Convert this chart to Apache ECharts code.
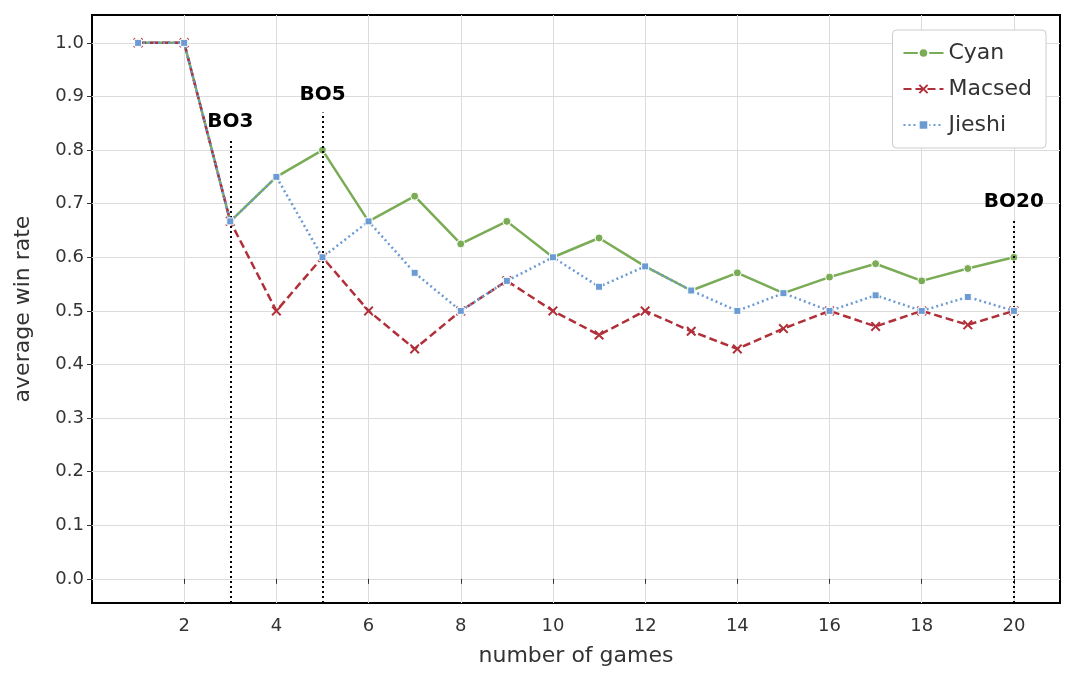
<!DOCTYPE html>
<html><head><meta charset="utf-8">
<script src="https://cdn.jsdelivr.net/npm/echarts@6/dist/echarts.min.js"></script>
<style>html,body{margin:0;background:#fff}#c{width:1080px;height:678px}</style>
</head><body><div id="c"></div>
<script>
// data
var games = [1,2,3,4,5,6,7,8,9,10,11,12,13,14,15,16,17,18,19,20];
var cyan = [1,1,0.667,0.75,0.8,0.667,0.714,0.625,0.667,0.6,0.636,0.583,0.538,0.571,0.533,0.563,0.588,0.556,0.579,0.6];
var macsed = [1,1,0.667,0.5,0.6,0.5,0.429,0.5,0.556,0.5,0.455,0.5,0.462,0.429,0.467,0.5,0.471,0.5,0.474,0.5];
var jieshi = [1,1,0.667,0.75,0.6,0.667,0.571,0.5,0.556,0.6,0.545,0.583,0.538,0.5,0.533,0.5,0.529,0.5,0.526,0.5];
var boNames = ['BO3','BO5','BO20'];
var boGames = [3,5,20];
var boTops = [0.82,0.87,0.67];
var yTicks = [0,0.1,0.2,0.3,0.4,0.5,0.6,0.7,0.8,0.9,1.0];
var xTicks = [2,4,6,8,10,12,14,16,18,20];

var yMin = -0.045, yMax = 1.052;
function pairs(arr){ return games.map(function(g,i){ return [g, arr[i]]; }); }

var boLines = boGames.map(function(g,i){
  return [{coord:[g,yMin]},{coord:[g,boTops[i]],label:{show:true,formatter:boNames[i],position:'end',
    fontWeight:'bold',fontSize:20,color:'#000',fontFamily:'DejaVu Sans',distance:8}}];
});

var chart = echarts.init(document.getElementById('c'));
chart.setOption({
  animation:false,
  textStyle:{fontFamily:'DejaVu Sans'},
  grid:{left:92,right:20,top:15,bottom:75,show:true,borderColor:'#000',borderWidth:2},
  legend:{
    right:34,top:30,orient:'vertical',itemWidth:40,itemHeight:12,itemGap:14,
    padding:[12,14,12,10],borderColor:'#ccc',borderWidth:1,borderRadius:4,backgroundColor:'#fff',
    textStyle:{fontSize:22,color:'#333'},
    data:['Cyan','Macsed','Jieshi']
  },
  xAxis:{
    type:'value',min:0,max:21,
    name:'number of games',nameLocation:'middle',nameGap:42,
    nameTextStyle:{fontSize:22,color:'#333'},
    axisLine:{show:false},axisTick:{show:true,customValues:xTicks,length:5,lineStyle:{color:'#333'}},
    axisLabel:{customValues:xTicks,fontSize:18,color:'#333',margin:14},
    splitLine:{show:true,lineStyle:{color:'#dcdcdc',width:1}}
  },
  yAxis:{
    type:'value',min:yMin,max:yMax,
    name:'average win rate',nameLocation:'middle',nameGap:58,
    nameTextStyle:{fontSize:22,color:'#333'},
    axisLine:{show:false},axisTick:{show:true,customValues:yTicks,length:5,lineStyle:{color:'#333'}},
    axisLabel:{customValues:yTicks,fontSize:18,color:'#333',formatter:function(v){return v.toFixed(1);}},
    splitLine:{show:true,lineStyle:{color:'#dcdcdc',width:1}}
  },
  series:[
    {name:'Cyan',type:'line',data:pairs(cyan),symbol:'circle',symbolSize:8,
      lineStyle:{color:'#7aab55',width:2.5},itemStyle:{color:'#7aab55',borderColor:'#fff',borderWidth:1},z:3,
      markLine:{silent:true,symbol:'none',lineStyle:{color:'#000',type:[2,3],width:2},data:boLines}},
    {name:'Macsed',type:'line',data:pairs(macsed),symbol:'path://M-1,-1.4L0,-0.4L1,-1.4L1.4,-1L0.4,0L1.4,1L1,1.4L0,0.4L-1,1.4L-1.4,1L-0.4,0L-1.4,-1Z',symbolSize:10,
      lineStyle:{color:'#b0303a',width:2.5,type:[8,4]},itemStyle:{color:'#b0303a'},z:4},
    {name:'Jieshi',type:'line',data:pairs(jieshi),symbol:'rect',symbolSize:7,
      lineStyle:{color:'#6b9bd2',width:2.5,type:[2,3]},itemStyle:{color:'#6b9bd2',borderColor:'#fff',borderWidth:1},z:5}
  ]
});
</script></body></html>
